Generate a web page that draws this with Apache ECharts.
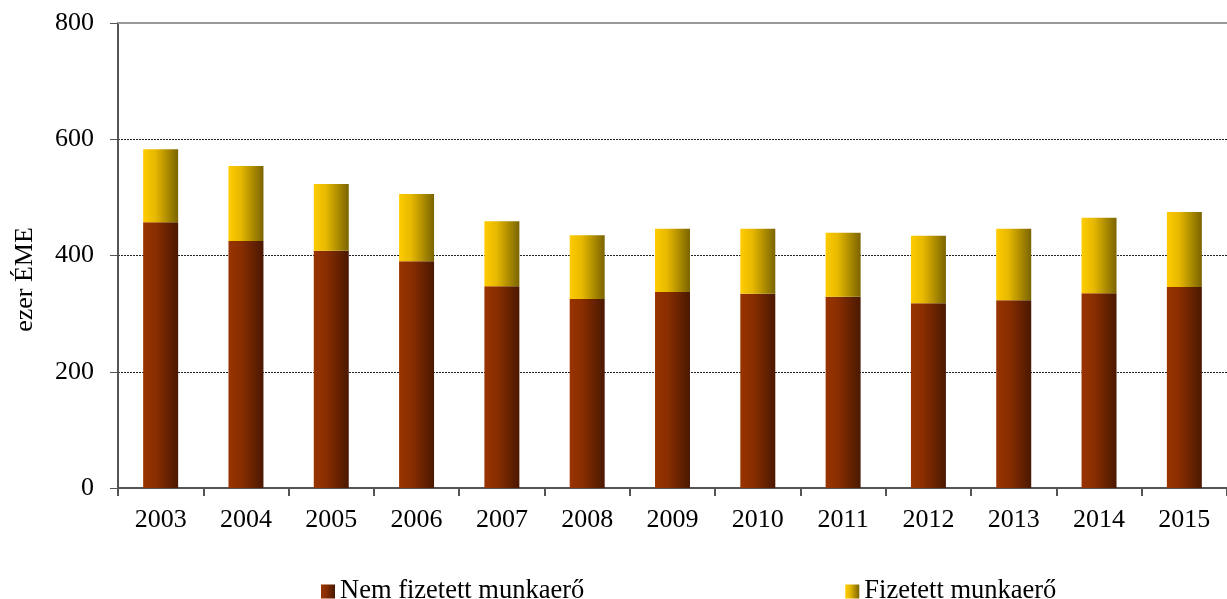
<!DOCTYPE html>
<html>
<head>
<meta charset="utf-8">
<script src="https://cdn.jsdelivr.net/npm/echarts@6/dist/echarts.min.js"></script>
<style>html,body{margin:0;padding:0;background:#fff}#c{width:1227px;height:599px}</style>
</head>
<body>
<div id="c"></div>
<script>
var years = ['2003','2004','2005','2006','2007','2008','2009','2010','2011','2012','2013','2014','2015'];
var unpaid = [457, 425, 408, 390, 347, 325, 337, 334, 329, 318, 323, 335, 346];
var paid = [126, 129, 115, 116, 112, 110, 109, 112, 110, 116, 123, 130, 129];
var yTicks = [0, 200, 400, 600, 800];

function grad(c1, c2, c3) {
  return new echarts.graphic.LinearGradient(0, 0, 1, 0, [
    {offset: 0, color: c1}, {offset: 0.35, color: c2}, {offset: 1, color: c3}
  ]);
}
var font = '"Liberation Serif", "Times New Roman", serif';
var chart = echarts.init(document.getElementById('c'));
chart.setOption({
  animation: false,
  textStyle: {fontFamily: font},
  grid: {left: 118, right: 0, top: 23, bottom: 111, containLabel: false},
  legend: {
    top: 573, left: 316, itemGap: 261, itemWidth: 14, itemHeight: 14,
    icon: 'rect',
    textStyle: {fontFamily: font, fontSize: 26.5, color: '#000'},
    data: ['Nem fizetett munkaerő', 'Fizetett munkaerő']
  },
  xAxis: [{
    type: 'category', data: years,
    axisLine: {lineStyle: {color: '#555', width: 2}},
    axisTick: {show: true, length: 8, lineStyle: {color: '#555', width: 2}},
    axisLabel: {fontFamily: font, fontSize: 26, color: '#000', margin: 19}
  }, {
    type: 'category', data: years, position: 'top',
    axisLine: {lineStyle: {color: '#999', width: 2}},
    axisTick: {show: false}, axisLabel: {show: false}
  }],
  yAxis: {
    type: 'value', min: 0, max: 800, interval: 200,
    name: 'ezer ÉME', nameLocation: 'middle', nameGap: 80, nameRotate: 90,
    nameTextStyle: {fontFamily: font, fontSize: 26, color: '#000', padding: [0, 48, 0, 0]},
    axisLine: {show: true, lineStyle: {color: '#555', width: 2}},
    axisTick: {show: true, length: 8, lineStyle: {color: '#555', width: 1}},
    axisLabel: {fontFamily: font, fontSize: 26, color: '#000', margin: 24,
      formatter: function (v) { return yTicks.indexOf(v) >= 0 ? String(v) : ''; }},
    splitLine: {show: true, lineStyle: {color: '#222', type: [2, 1], width: 1}}
  },
  series: [{
    name: 'Nem fizetett munkaerő', type: 'bar', stack: 's', data: unpaid,
    barWidth: '41%',
    itemStyle: {color: grad('#993300', '#8a2e00', '#4a1800')}
  }, {
    name: 'Fizetett munkaerő', type: 'bar', stack: 's', data: paid,
    barWidth: '41%',
    itemStyle: {color: grad('#ffcc00', '#e6b800', '#7a6400')}
  }]
});
</script>
</body>
</html>
